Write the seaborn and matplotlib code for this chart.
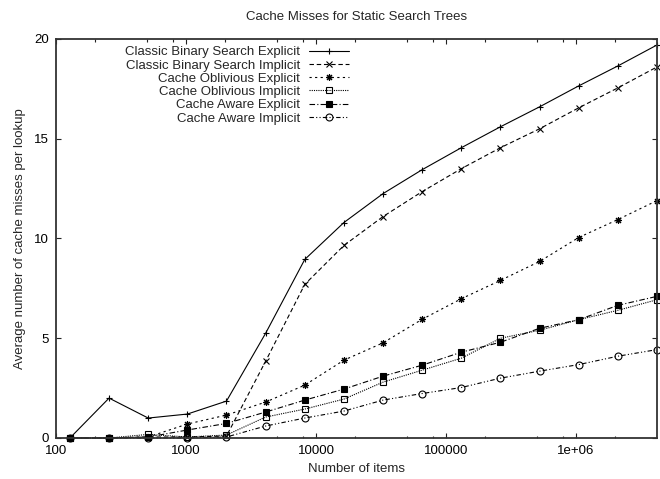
import matplotlib
matplotlib.use("Agg")
import matplotlib.pyplot as plt
import matplotlib.ticker as ticker
import pandas as pd
import seaborn as sns

# data
n_items = [128, 256, 512, 1024, 2048, 4096, 8192, 16384, 32768, 65536,
           131072, 262144, 524288, 1048576, 2097152, 4194304]

classic_explicit = [0.0, 2.0, 1.0, 1.2, 1.85, 5.25, 8.95, 10.8, 12.25, 13.45,
                    14.55, 15.6, 16.6, 17.65, 18.65, 19.7]
classic_implicit = [0.0, 0.0, 0.05, 0.05, 0.1, 3.85, 7.7, 9.65, 11.1, 12.35,
                    13.5, 14.55, 15.5, 16.55, 17.55, 18.6]
oblivious_explicit = [0.0, 0.0, 0.05, 0.7, 1.15, 1.8, 2.65, 3.9, 4.77, 5.95,
                      6.98, 7.9, 8.85, 10.05, 10.95, 11.9]
oblivious_implicit = [0.0, 0.0, 0.18, 0.05, 0.15, 1.05, 1.45, 1.95, 2.8, 3.4,
                      4.0, 5.0, 5.4, 5.93, 6.4, 6.93]
aware_explicit = [0.0, 0.0, 0.05, 0.4, 0.73, 1.3, 1.9, 2.45, 3.1, 3.65,
                  4.3, 4.8, 5.5, 5.93, 6.65, 7.1]
aware_implicit = [0.0, 0.0, 0.0, 0.0, 0.05, 0.6, 1.0, 1.35, 1.9, 2.23,
                  2.53, 3.0, 3.35, 3.68, 4.1, 4.43]

series_names = ["Classic Binary Search Explicit", "Classic Binary Search Implicit",
                "Cache Oblivious Explicit", "Cache Oblivious Implicit",
                "Cache Aware Explicit", "Cache Aware Implicit"]
series_values = [classic_explicit, classic_implicit, oblivious_explicit,
                 oblivious_implicit, aware_explicit, aware_implicit]

x_ticks = [100, 1000, 10000, 100000, 1000000]
x_tick_labels = ["100", "1000", "10000", "100000", "1e+06"]
y_ticks = [0, 5, 10, 15, 20]

# gnuplot-ish styles: (linestyle, marker, filled)
styles = [
    ("-", "+", False),
    ((0, (4, 2.5)), "x", False),
    ((0, (2, 3)), (8, 2, 0), False),
    ((0, (1, 1)), "s", False),
    ((0, (5, 2, 1, 2)), "s", True),
    ((0, (4, 2, 1, 2, 1, 2)), "o", False),
]

sns.set_theme(style="ticks")
plt.rcParams["font.family"] = ["Liberation Sans", "DejaVu Sans"]
plt.rcParams["font.size"] = 9.5

fig = plt.figure(figsize=(6.6, 4.79), dpi=100)
ax = fig.add_axes([56 / 660, 1 - 438 / 479, 601 / 660, 399 / 479])

for name, vals, (ls, mk, filled) in zip(series_names, series_values, styles):
    df = pd.DataFrame({"items": n_items, "misses": vals})
    sns.lineplot(data=df, x="items", y="misses", ax=ax, color="black",
                 linewidth=0.8, linestyle=ls, marker=mk, markersize=5,
                 mfc="black" if filled else "none", mec="black", mew=0.8,
                 label=name, clip_on=False)

ax.set_xscale("log")
ax.set_xlim(100, 4194304)
ax.set_ylim(0, 20)
ax.xaxis.set_major_locator(ticker.FixedLocator(x_ticks))
ax.xaxis.set_major_formatter(ticker.FixedFormatter(x_tick_labels))
ax.xaxis.set_minor_locator(ticker.LogLocator(base=10, subs=[2, 5, 8]))
ax.xaxis.set_minor_formatter(ticker.NullFormatter())
ax.set_yticks(y_ticks)

ax.tick_params(which="both", direction="in", top=True, right=True,
               colors="#222222", labelcolor="black", labelsize=9.5)
ax.tick_params(which="major", length=3.6, width=0.8, pad=5)
ax.tick_params(which="minor", length=1.8, width=0.8)
for sp in ax.spines.values():
    sp.set_visible(True)
    sp.set_linewidth(1.3)
    sp.set_color("#333333")

ax.set_xlabel("Number of items", fontsize=9.5, labelpad=4)
ax.set_ylabel("Average number of cache misses per lookup", fontsize=9.5, labelpad=6)
ax.set_title("Cache Misses for Static Search Trees", fontsize=9.5, pad=14)

# text first, sample line after it; rows are right-aligned by the legend itself
ax.legend(loc="upper right", bbox_to_anchor=((349 - 56) / 601, (438 - 46) / 399),
          markerfirst=False, frameon=False, numpoints=1, handlelength=3.0,
          handletextpad=0.7, labelspacing=0.08, borderpad=0, borderaxespad=0,
          fontsize=9.5)

fig.savefig("out.png", dpi=100)
